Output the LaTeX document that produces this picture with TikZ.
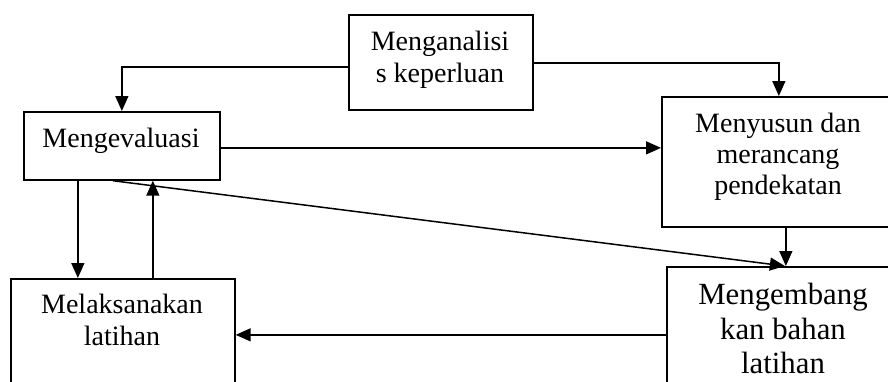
\documentclass[tikz,border=0pt]{standalone}
\usepackage{fontspec}
\setmainfont{Liberation Serif}
\usetikzlibrary{arrows.meta}
\begin{document}
\begin{tikzpicture}[x=1pt,y=-1pt,
  boxstyle/.style={draw,line width=1.7pt,rectangle,anchor=north west,inner sep=0pt},
  txt/.style={inner sep=0pt,align=center,font=\fontsize{28}{32}\selectfont},
  bigtxt/.style={inner sep=0pt,align=center,font=\fontsize{30.8}{34.5}\selectfont},
  arr/.style={line width=1.5pt,-{Triangle[length=15pt,width=13pt]}}]
\useasboundingbox (0,0) rectangle (888,381);
\clip (0,0) rectangle (888,381);
\node[boxstyle,minimum width=184pt,minimum height=95pt] (ana) at (348,14) {};
\node[boxstyle,minimum width=196pt,minimum height=68pt] (eva) at (23,111) {};
\node[boxstyle,minimum width=234pt,minimum height=130pt] (nyu) at (661,96) {};
\node[boxstyle,minimum width=233pt,minimum height=136pt] (kem) at (666,266) {};
\node[boxstyle,minimum width=224pt,minimum height=130pt] (lak) at (10,278) {};
\node[txt,anchor=north] (tana) at (440,31) {Menganalisi\\s keperluan};
\node[txt,anchor=base] (teva) at (121,147) {Mengevaluasi};
\node[txt,anchor=north,font=\fontsize{28}{31}\selectfont] (tnyu) at (778,113) {Menyusun dan\\merancang\\pendekatan};
\node[bigtxt,anchor=north] (tkem) at (783,283) {Mengembang\\kan bahan\\latihan};
\node[txt,anchor=north] (tlak) at (122,294) {Melaksanakan\\latihan};
\draw[arr] ([yshift=-4.5pt]ana.west) -| (eva.north);
\draw[arr] ([yshift=-0.5pt]ana.east) -| (nyu.north);
\draw[arr] ([yshift=-2pt]eva.east) -- ([yshift=-2pt]eva.east -| nyu.west);
\draw[arr] ([xshift=7pt]nyu.south) -- ([xshift=7pt]nyu.south |- kem.north);
\draw[arr] ([xshift=-9pt]eva.south) -- ([xshift=1.5pt]kem.north);
\draw[arr] ([xshift=-44pt]eva.south) -- ([xshift=-44pt]eva.south |- lak.north);
\draw[arr] ([xshift=30pt]lak.north) -- ([xshift=30pt]lak.north |- eva.south);
\draw[arr] (kem.west) -- (kem.west -| lak.east);
\end{tikzpicture}
\end{document}
